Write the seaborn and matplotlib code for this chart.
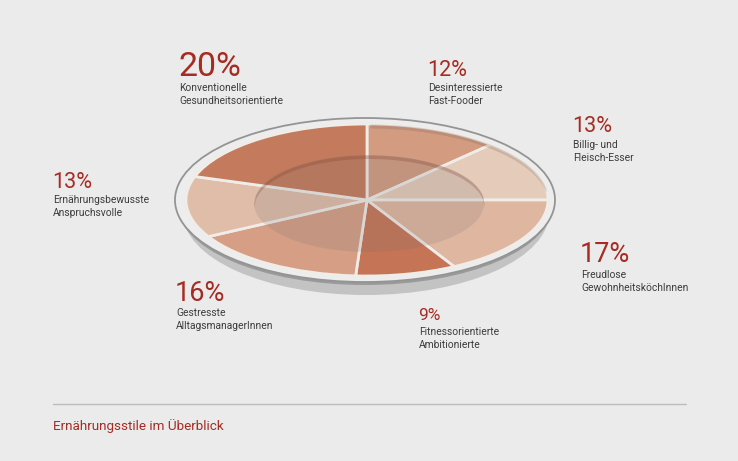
import numpy as np
import matplotlib.pyplot as plt
from matplotlib.patches import Ellipse
import seaborn as sns

# clockwise from the top of the plate
styles = ['Desinteressierte\nFast-Fooder', 'Billig- und\nFleisch-Esser', 'Freudlose\nGewohnheitsköchInnen',
          'Fitnessorientierte\nAmbitionierte', 'Gestresste\nAlltagsmanagerInnen',
          'Ernährungsbewusste\nAnspruchsvolle', 'Konventionelle\nGesundheitsorientierte']
shares = [12, 13, 17, 9, 16, 13, 20]
slice_colors = ['#d39c81', '#e5cbba', '#dfb7a0', '#c57456', '#d69f85', '#e0bda8', '#c47a5c']
title = 'Ernährungsstile im Überblick'

bg = '#ebebeb'
red = '#a62b22'
dark = '#3c3c3c'

sns.set_theme(style='white', rc={'figure.facecolor': bg, 'axes.facecolor': bg})
plt.rcParams['font.family'] = ['Roboto', 'DejaVu Sans']

fig = plt.figure(figsize=(7.38, 4.61), dpi=100)
ax = fig.add_axes([0, 0, 1, 1])
ax.set_xlim(0, 738)
ax.set_ylim(461, 0)
ax.axis('off')

# plate: shadow, underside, rim
ax.add_patch(Ellipse((366, 213), 366, 164, fc='#c3c3c3', ec='none', zorder=1))
ax.add_patch(Ellipse((365, 204), 376, 162, fc='#9a9a9a', ec='none', zorder=1))
ax.add_patch(Ellipse((365, 200), 380, 164, fc='#ededed', ec='#949494', lw=1.3, zorder=2))

# the pie itself, squashed by an axes with free aspect
cx, cy, rx, ry = 367, 200, 181, 76
pie_ax = fig.add_axes([(cx - rx) / 738, 1 - (cy + ry) / 461, 2 * rx / 738, 2 * ry / 461])
pie_ax.patch.set_alpha(0)
pie_ax.pie(shares, colors=slice_colors, startangle=90, counterclock=False, radius=1,
           wedgeprops={'edgecolor': '#f0ece8', 'linewidth': 2.0})
pie_ax.set_aspect('auto')
pie_ax.set_xlim(-1, 1)
pie_ax.set_ylim(-1, 1)

# plate well drawn on top of the pie
top = fig.add_axes([0, 0, 1, 1])
top.set_xlim(0, 738)
top.set_ylim(461, 0)
top.axis('off')
top.patch.set_alpha(0)
well = Ellipse((369, 203.5), 230, 97, fc='#6f6f6f', alpha=0.17, ec='none')
top.add_patch(well)
x = np.linspace(254, 484, 200)
well_top = 203.5 - 48.5 * np.sqrt(np.clip(1 - ((x - 369) / 115) ** 2, 0, 1))
inner_top = 207 - 48.5 * np.sqrt(np.clip(1 - ((x - 369) / 115) ** 2, 0, 1))
top.fill_between(x, well_top, np.maximum(well_top, inner_top), color='#7a3a28', alpha=0.25, lw=0)

# shaded band on the far rim
x = np.linspace(370, 546, 200)
rim_top = cy - ry * np.sqrt(np.clip(1 - ((x - cx) / rx) ** 2, 0, 1))
rim_low = cy + 4 - ry * np.sqrt(np.clip(1 - ((x - cx) / rx) ** 2, 0, 1))
top.fill_between(x, rim_top, np.minimum(rim_low, cy), color='#6f5a50', alpha=0.22, lw=0)

# callouts, same order as shares
pct_pos = [(427, 76, 15.5), (572, 132, 15.5), (580, 262, 19.5), (418, 320, 12.5),
           (175, 301, 19.5), (52, 188, 15.5), (178, 76, 24.5)]
lab_pos = [(428, 83), (573, 140), (581, 270), (419, 327), (176, 308), (53, 195), (179, 83)]
for share, style, (px, py, fs), (lx, ly) in zip(shares, styles, pct_pos, lab_pos):
    top.text(px, py, f'{share}%', color=red, fontsize=fs, va='baseline', ha='left')
    top.text(lx, ly, style, color=dark, fontsize=7.4, va='top', ha='left', linespacing=1.4)

top.plot([53, 686], [404, 404], color='#bdbdbd', lw=1)
top.text(53, 430, title, color=red, fontsize=9.7, va='baseline', ha='left')

fig.savefig('out.png', dpi=100, facecolor=bg)
